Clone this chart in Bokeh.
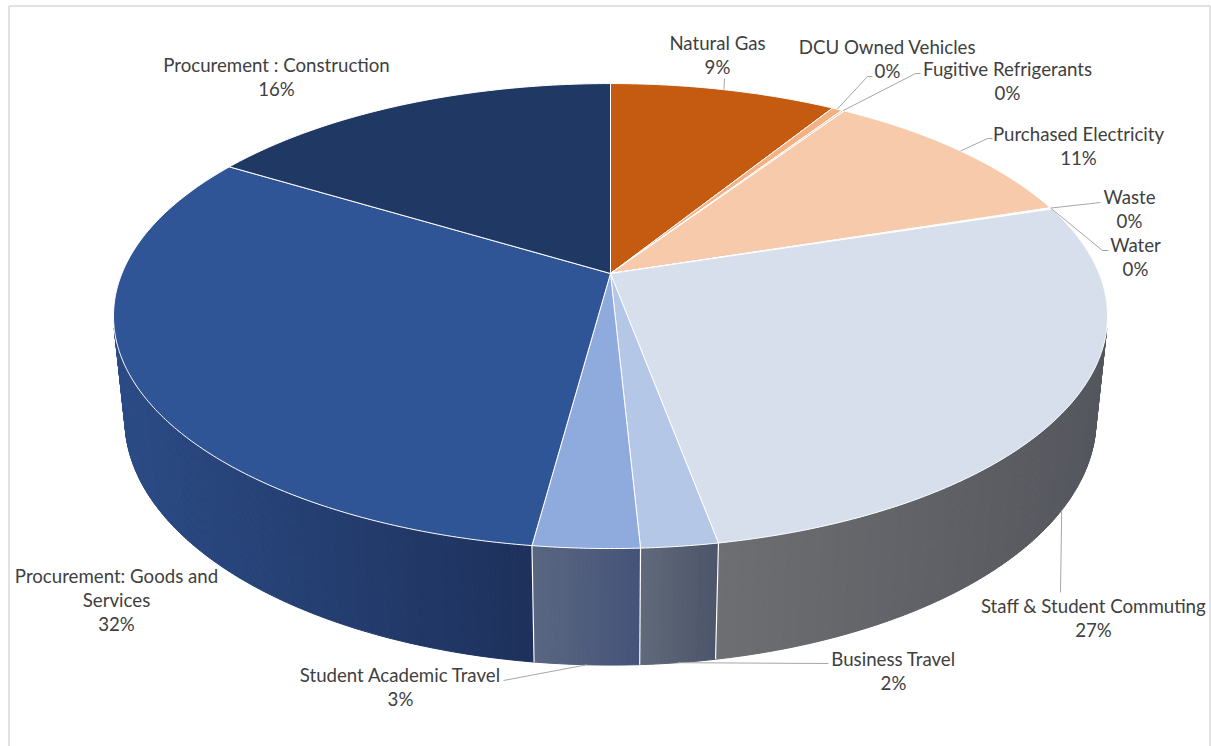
import numpy as np
from bokeh.plotting import figure
from bokeh.models import Range1d
from bokeh.core.properties import value
from bokeh.embed import file_html
from bokeh.resources import INLINE

# ---------------- data ----------------
categories = ["Natural Gas", "DCU Owned Vehicles", "Fugitive Refrigerants",
              "Purchased Electricity", "Waste", "Water",
              "Staff & Student Commuting", "Business Travel",
              "Student Academic Travel", "Procurement: Goods and Services",
              "Procurement : Construction"]
shares = [8.8, 0.4, 0.1, 10.7, 0.05, 0.05, 27.0, 2.1, 2.9, 31.6, 16.3]

top_colors = ["#C55A11", "#F4B183", "#F8CBAD", "#F6CAAB", "#A9D18E", "#9DC3E6",
              "#D7DEEC", "#B4C7E7", "#8FAADC", "#2F5597", "#1F3864"]
side_light = ["#A34A0E", "#C9936C", "#CCA88F", "#CCA88F", "#8CAD76", "#82A2BF",
              "#6E6F72", "#606979", "#596681", "#2C4C86", "#1A2E53"]
side_dark = ["#8A3F0C", "#AA7C5B", "#AD8E79", "#AD8E79", "#779364", "#6E89A2",
             "#55575E", "#4C5569", "#45537A", "#1E315C", "#15264A"]

# label layout: (x centre, y of first line), line texts, leader waypoints
label_lines = [["Natural Gas"], ["DCU Owned Vehicles"], ["Fugitive Refrigerants"],
               ["Purchased Electricity"], ["Waste"], ["Water"],
               ["Staff & Student Commuting"], ["Business Travel"],
               ["Student Academic Travel"], ["Procurement: Goods and", "Services"],
               ["Procurement : Construction"]]
label_pos = [(717, 42), (887, 46), (1007, 68), (1078, 133), (1129, 196), (1135, 244),
             (1093, 605), (893, 658), (400, 674), (116, 575), (276, 64)]
leader_pts = [[(724, 78)], [(867, 76), (872, 76)], [(915, 73), (920, 73)],
              [(987, 138), (992, 138)], [(1100, 202)], [(1102, 250), (1108, 250)],
              [(1060, 592)], [(828, 663)], [(503, 680)], [], []]
leader_on_bottom = [False, False, False, False, False, False, True, True, True, False, False]

# ---------------- geometry ----------------
CX, CY = 610.0, 273.0
A, B, K = 488.6, 224.7, 0.183
sin_t = B / A
cos_t = np.sqrt(1 - sin_t ** 2)
D = cos_t / K
F = A * D
H = 0.24


def proj(phi, z):
    u = np.sin(phi)
    v = np.cos(phi)
    depth = D + v * cos_t - z * sin_t
    x = CX + F * u / depth
    y = CY - F * (v * sin_t + z * cos_t) / depth
    return x, y


vals = np.array(shares, dtype=float)
fr = vals / vals.sum()
bounds = np.concatenate([[0.0], np.cumsum(fr)]) * 2 * np.pi
pct = [f"{int(round(f * 100))}%" for f in fr]

W, HH = 1211, 746
p = figure(width=W, height=HH, output_backend="svg", toolbar_location=None,
           x_range=Range1d(0, W), y_range=Range1d(HH, 0), min_border=0)
p.axis.visible = False
p.grid.visible = False
p.outline_line_color = None
p.background_fill_color = "white"
p.border_fill_color = "white"

# chart frame
p.line([8.5, 8.5, 1209.5, 1209.5], [HH + 5, 5.5, 5.5, HH + 5],
       line_color="#D9D9D9", line_width=1.5)

# ---------- side strips ----------
vis_lim = -1.0 / (D * cos_t)
sx, sy, sc = [], [], []
for i in range(len(vals)):
    a0, a1 = bounds[i], bounds[i + 1]
    n = max(2, int(np.ceil((a1 - a0) / np.radians(0.4))))
    angs = np.linspace(a0, a1, n + 1)
    vis = [j for j in range(n) if np.cos((angs[j] + angs[j + 1]) / 2) < vis_lim]
    if not vis:
        continue
    xs_all = [proj(angs[j], 0)[0] for j in vis]
    xl, xr = min(xs_all), max(xs_all)
    c0 = np.array([int(side_light[i][k:k + 2], 16) for k in (1, 3, 5)])
    c1 = np.array([int(side_dark[i][k:k + 2], 16) for k in (1, 3, 5)])
    for j in vis:
        t0, t1 = angs[j], angs[j + 1]
        x0, y0 = proj(t0, 0)
        x1, y1 = proj(t1, 0)
        x2, y2 = proj(t1, -H)
        x3, y3 = proj(t0, -H)
        xm = (x0 + x1) / 2
        f = 0 if xr == xl else (xm - xl) / (xr - xl)
        c = (c0 + (c1 - c0) * f).astype(int)
        col = "#%02x%02x%02x" % tuple(c)
        sx.append([x0, x1, x2, x3])
        sy.append([y0, y1, y2, y3])
        sc.append(col)
p.patches(sx, sy, fill_color=sc, line_color=sc, line_width=1)

# white edges on the side at slice boundaries
for b in bounds[1:-1]:
    if np.cos(b) < vis_lim:
        xa, ya = proj(b, 0)
        xb, yb = proj(b, -H)
        p.line([xa, xb], [ya, yb], line_color="white", line_width=1.2)

# ---------- top face ----------
tx, ty = [], []
for i in range(len(vals)):
    a0, a1 = bounds[i], bounds[i + 1]
    n = max(2, int(np.ceil((a1 - a0) / np.radians(0.5))))
    angs = np.linspace(a0, a1, n + 1)
    xs, ys = proj(angs, 0)
    tx.append([CX] + list(xs))
    ty.append([CY] + list(ys))
p.patches(tx, ty, fill_color=top_colors, line_color="white", line_width=1)

# ---------- leaders and labels ----------
for i in range(len(vals)):
    if not leader_pts[i]:
        continue
    mid = (bounds[i] + bounds[i + 1]) / 2
    x0, y0 = proj(mid, -H if leader_on_bottom[i] else 0)
    xs = [x0] + [q[0] for q in leader_pts[i]]
    ys = [y0] + [q[1] for q in leader_pts[i]]
    p.line(xs, ys, line_color="#A6A6A6", line_width=1)

lx, ly, lt = [], [], []
for i in range(len(vals)):
    x, y = label_pos[i]
    lines = label_lines[i] + [pct[i]]
    for k, s in enumerate(lines):
        lx.append(x)
        ly.append(y + 24 * k)
        lt.append(s)
p.text(lx, ly, text=lt, text_align="center", text_baseline="middle",
       text_font=value("Lato"), text_font_size="18.67px", text_color="#404040")

open("out.html", "w").write(file_html(p, INLINE))
